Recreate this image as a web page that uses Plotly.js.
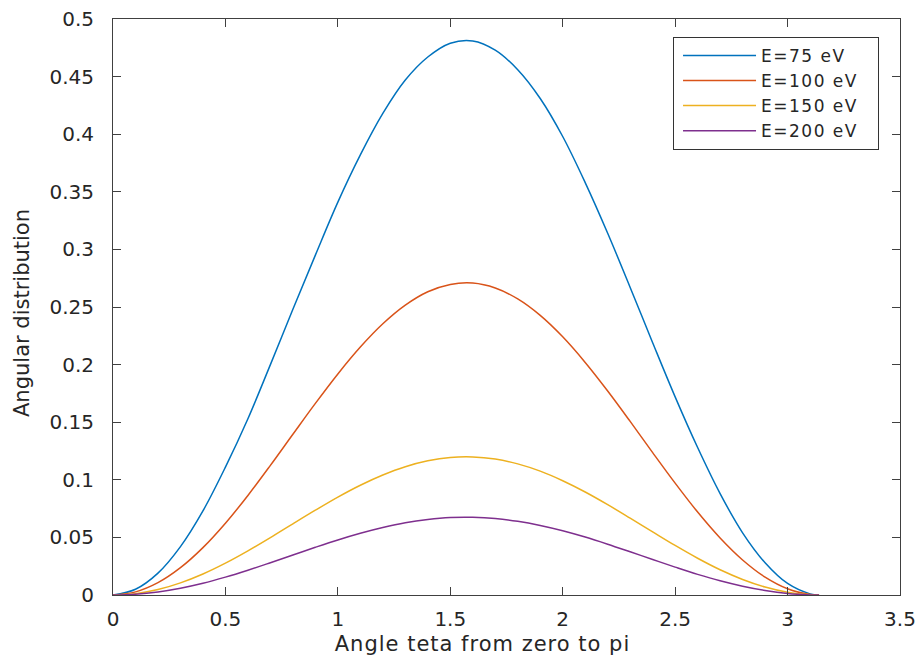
<!DOCTYPE html>
<html>
<head>
<meta charset="utf-8">
<script src="https://cdn.plot.ly/plotly-3.0.1.min.js"></script>
<style>
html,body{margin:0;padding:0;background:#fff;}
#chart{width:916px;height:668px;}
.xtitle{letter-spacing:1px;}
.legendtext{letter-spacing:1.5px;}
</style>
</head>
<body>
<div id="chart"></div>
<script>
const theta = [0,0.1,0.2,0.3,0.4,0.5,0.6,0.7,0.8,0.9,1.0,1.1,1.2,1.3,1.4,1.5,1.6,1.7,1.8,1.9,2.0,2.1,2.2,2.3,2.4,2.5,2.6,2.7,2.8,2.9,3.0,3.1,3.14];
const e75  = [0,0.005,0.019,0.042,0.073,0.111,0.153,0.200,0.248,0.295,0.341,0.382,0.418,0.447,0.467,0.479,0.481,0.473,0.456,0.431,0.398,0.358,0.314,0.267,0.219,0.172,0.128,0.088,0.054,0.028,0.010,0.001,0];
const e100 = [0,0.0027,0.0107,0.0237,0.0411,0.0623,0.0864,0.1125,0.1395,0.1663,0.1919,0.2152,0.2354,0.2516,0.2632,0.2696,0.2708,0.2665,0.2570,0.2427,0.2241,0.2019,0.1771,0.1507,0.1236,0.0971,0.0720,0.0495,0.0304,0.0155,0.0054,0.0005,0];
const e150 = [0,0.0012,0.0047,0.0105,0.0182,0.0276,0.0383,0.0498,0.0618,0.0736,0.0850,0.0953,0.1042,0.1114,0.1165,0.1194,0.1199,0.1180,0.1138,0.1075,0.0992,0.0894,0.0784,0.0667,0.0548,0.0430,0.0319,0.0219,0.0135,0.0069,0.0024,0.0002,0];
const e200 = [0,0.0007,0.0027,0.0059,0.0102,0.0155,0.0215,0.0280,0.0347,0.0414,0.0478,0.0536,0.0586,0.0627,0.0655,0.0672,0.0674,0.0664,0.0640,0.0604,0.0558,0.0503,0.0441,0.0375,0.0308,0.0242,0.0179,0.0123,0.0076,0.0039,0.0013,0.0001,0];
const names = ['E=75 eV','E=100 eV','E=150 eV','E=200 eV'];
const colors = ['#0072BD','#D95319','#EDB120','#7E2F8E'];
const series = [e75,e100,e150,e200];

const FONT = 'DejaVu Sans, Liberation Sans, Arial, sans-serif';

const traces = series.map((s,i)=>({
  x: theta, y: s, type:'scatter', mode:'lines', name: names[i],
  line:{color:colors[i], width:1.5, shape:'spline', smoothing:1}
}));

const axisCommon = {
  showgrid:false, zeroline:false, showline:true, linecolor:'#404040', linewidth:1,
  mirror:'ticks', ticks:'inside', ticklen:8, tickcolor:'#404040', tickwidth:1,
  ticklabeloverflow:'allow',
  tickfont:{family:FONT, size:20, color:'#262626'}
};

const layout = {
  width:916, height:668,
  margin:{l:113, r:16, t:19, b:73},
  paper_bgcolor:'#fff', plot_bgcolor:'#fff',
  font:{family:FONT, color:'#262626'},
  showlegend:true,
  xaxis: Object.assign({}, axisCommon, {
    range:[0,3.5], dtick:0.5, tick0:0, ticklabelstandoff:6,
    title:{text:'Angle teta from zero to pi', font:{family:FONT, size:21, color:'#262626'}, standoff:6}
  }),
  yaxis: Object.assign({}, axisCommon, {
    range:[0,0.5], dtick:0.05, tick0:0, ticklabelstandoff:14,
    title:{text:'Angular distribution', font:{family:FONT, size:21, color:'#262626'}, standoff:14}
  }),
  legend:{
    x:0.7116, y:0.969, xanchor:'left', yanchor:'top',
    bgcolor:'#fff', bordercolor:'#333', borderwidth:1,
    font:{family:FONT, size:17, color:'#262626'}, itemwidth:77, tracegroupgap:0
  }
};
Plotly.newPlot('chart', traces, layout, {displayModeBar:false, staticPlot:true}).then(()=>{
  document.querySelectorAll('.legendlines path').forEach(p=>p.setAttribute('d','M9,0h73'));
  const bg = document.querySelector('.legend rect.bg');
  if (bg) bg.setAttribute('width', '205');
  const xt = document.querySelector('.g-xtitle text');
  if (xt) xt.setAttribute('x', String(parseFloat(xt.getAttribute('x')) - 24));
  const yt = document.querySelector('.g-ytitle text');
  if (yt) {
    const tr = yt.getAttribute('transform') || '';
    yt.setAttribute('transform', 'translate(0,6) ' + tr);
  }
});
</script>
</body>
</html>
